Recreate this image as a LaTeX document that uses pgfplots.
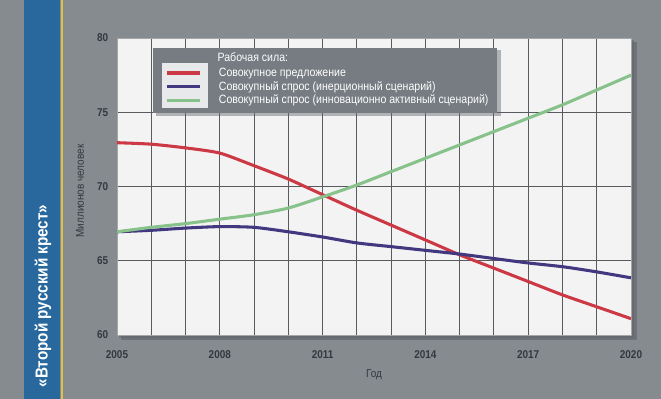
\documentclass[border=0pt]{standalone}
\usepackage{pgfplots}
\pgfplotsset{compat=1.18}
\usepackage{fontspec}
\setmainfont{Liberation Sans}
\newfontfamily\cond{Liberation Sans}[FakeStretch=0.88]
\definecolor{bg}{RGB}{134,139,144}
\definecolor{bandblue}{RGB}{40,104,156}
\definecolor{yel}{RGB}{222,192,72}
\definecolor{shadowc}{RGB}{96,100,106}
\definecolor{plotbg}{RGB}{243,243,244}
\definecolor{gridc}{RGB}{88,90,94}
\definecolor{tickc}{RGB}{52,56,62}
\definecolor{legbg}{RGB}{118,124,130}
\definecolor{lightbox}{RGB}{232,233,234}
\definecolor{cred}{RGB}{204,56,68}
\definecolor{cnavy}{RGB}{66,56,128}
\definecolor{cgreen}{RGB}{134,194,138}
\begin{document}
\begin{tikzpicture}
\begin{scope}[x=0.75pt,y=0.75pt]
\fill[bg] (0,0) rectangle (661,399);
\fill[bandblue] (24,0) rectangle (60,399);
\fill[yel] (61,0) rectangle (63,399);
\fill[shadowc,opacity=0.6] (121,59) rectangle (637,357);
\fill[shadowc,opacity=0.5] (119,61) rectangle (634,359);
\node[rotate=90, text=white, font=\cond\bfseries\fontsize{13}{15}\selectfont] at (43,103) {«Второй русский крест»};
\end{scope}
\begin{axis}[
  at={(87.75pt,48pt)}, anchor=south west,
  scale only axis, width=385.5pt, height=222.75pt,
  xmin=2005, xmax=2020, ymin=60, ymax=80,
  xtick={2005,2008,2011,2014,2017,2020},
  minor xtick={2005,...,2020},
  ytick={60,65,70,75,80},
  grid=both,
  major grid style={gridc, line width=0.6pt},
  minor grid style={gridc, line width=0.6pt},
  major tick length=0pt, minor tick length=0pt,
  axis background/.style={fill=plotbg},
  axis line style={draw=gray!70},
  /pgf/number format/assume math mode=true,
  /pgf/number format/1000 sep={},
  ticklabel style={font=\cond\bfseries\fontsize{8.5}{9}\selectfont, text=tickc},
  xticklabel style={yshift=-8pt},
  yticklabel style={xshift=-3pt},
  xlabel={Год}, ylabel={Миллионов человек},
  label style={font=\cond\fontsize{8.5}{9}\selectfont, text=tickc},
  x label style={at={(axis description cs:0.5,-0.135)}, anchor=center},
  y label style={at={(axis description cs:-0.072,0.485)}, anchor=center},
  legend cell align=left,
  legend image code/.code={\draw[#1] (0pt,0pt) -- (24.75pt,0pt);},
  legend style={at={(axis cs:2006.30,78.37)}, anchor=north west, draw=none, fill=none,
    text=white, font=\cond\fontsize{9}{10}\selectfont, row sep=-1.8pt, column sep=10.75pt},
]
\addplot[cred, line width=2.3pt, smooth, tension=0.4] coordinates {
(2005,72.95) (2006,72.85) (2007,72.6) (2008,72.25) (2009,71.4) (2010,70.5)
(2011,69.45) (2012,68.4) (2013,67.4) (2014,66.4) (2015,65.4) (2016,64.5)
(2017,63.6) (2018,62.7) (2019,61.9) (2020,61.1)};
\addlegendentry{Совокупное предложение}
\addplot[cnavy, line width=2.3pt, smooth, tension=0.4] coordinates {
(2005,66.95) (2006,67.05) (2007,67.2) (2008,67.3) (2009,67.25) (2010,66.95)
(2011,66.6) (2012,66.2) (2013,65.95) (2014,65.7) (2015,65.45) (2016,65.15)
(2017,64.85) (2018,64.6) (2019,64.25) (2020,63.85)};
\addlegendentry{Совокупный спрос (инерционный сценарий)}
\addplot[cgreen, line width=2.3pt, smooth, tension=0.4] coordinates {
(2005,66.95) (2006,67.25) (2007,67.5) (2008,67.8) (2009,68.1) (2010,68.55)
(2011,69.3) (2012,70.1) (2013,71.0) (2014,71.9) (2015,72.8) (2016,73.7)
(2017,74.6) (2018,75.5) (2019,76.5) (2020,77.5)};
\addlegendentry{Совокупный спрос (инновационно активный сценарий)}
\fill[shadowc,opacity=0.45] (axis cs:2006.15,79.2) rectangle (axis cs:2016.2,74.75);
\fill[legbg] (axis cs:2006.05,79.33) rectangle (axis cs:2016.09,74.95);
\fill[lightbox] (axis cs:2006.31,78.34) rectangle (axis cs:2007.66,75.27);
\node[anchor=west, text=white, font=\cond\fontsize{9}{10}\selectfont, inner sep=0pt] at (axis cs:2007.93,78.72) {Рабочая сила:};
\end{axis}
\pgfresetboundingbox
\useasboundingbox (0,0) rectangle (495.75pt,299.25pt);
\end{tikzpicture}
\end{document}
